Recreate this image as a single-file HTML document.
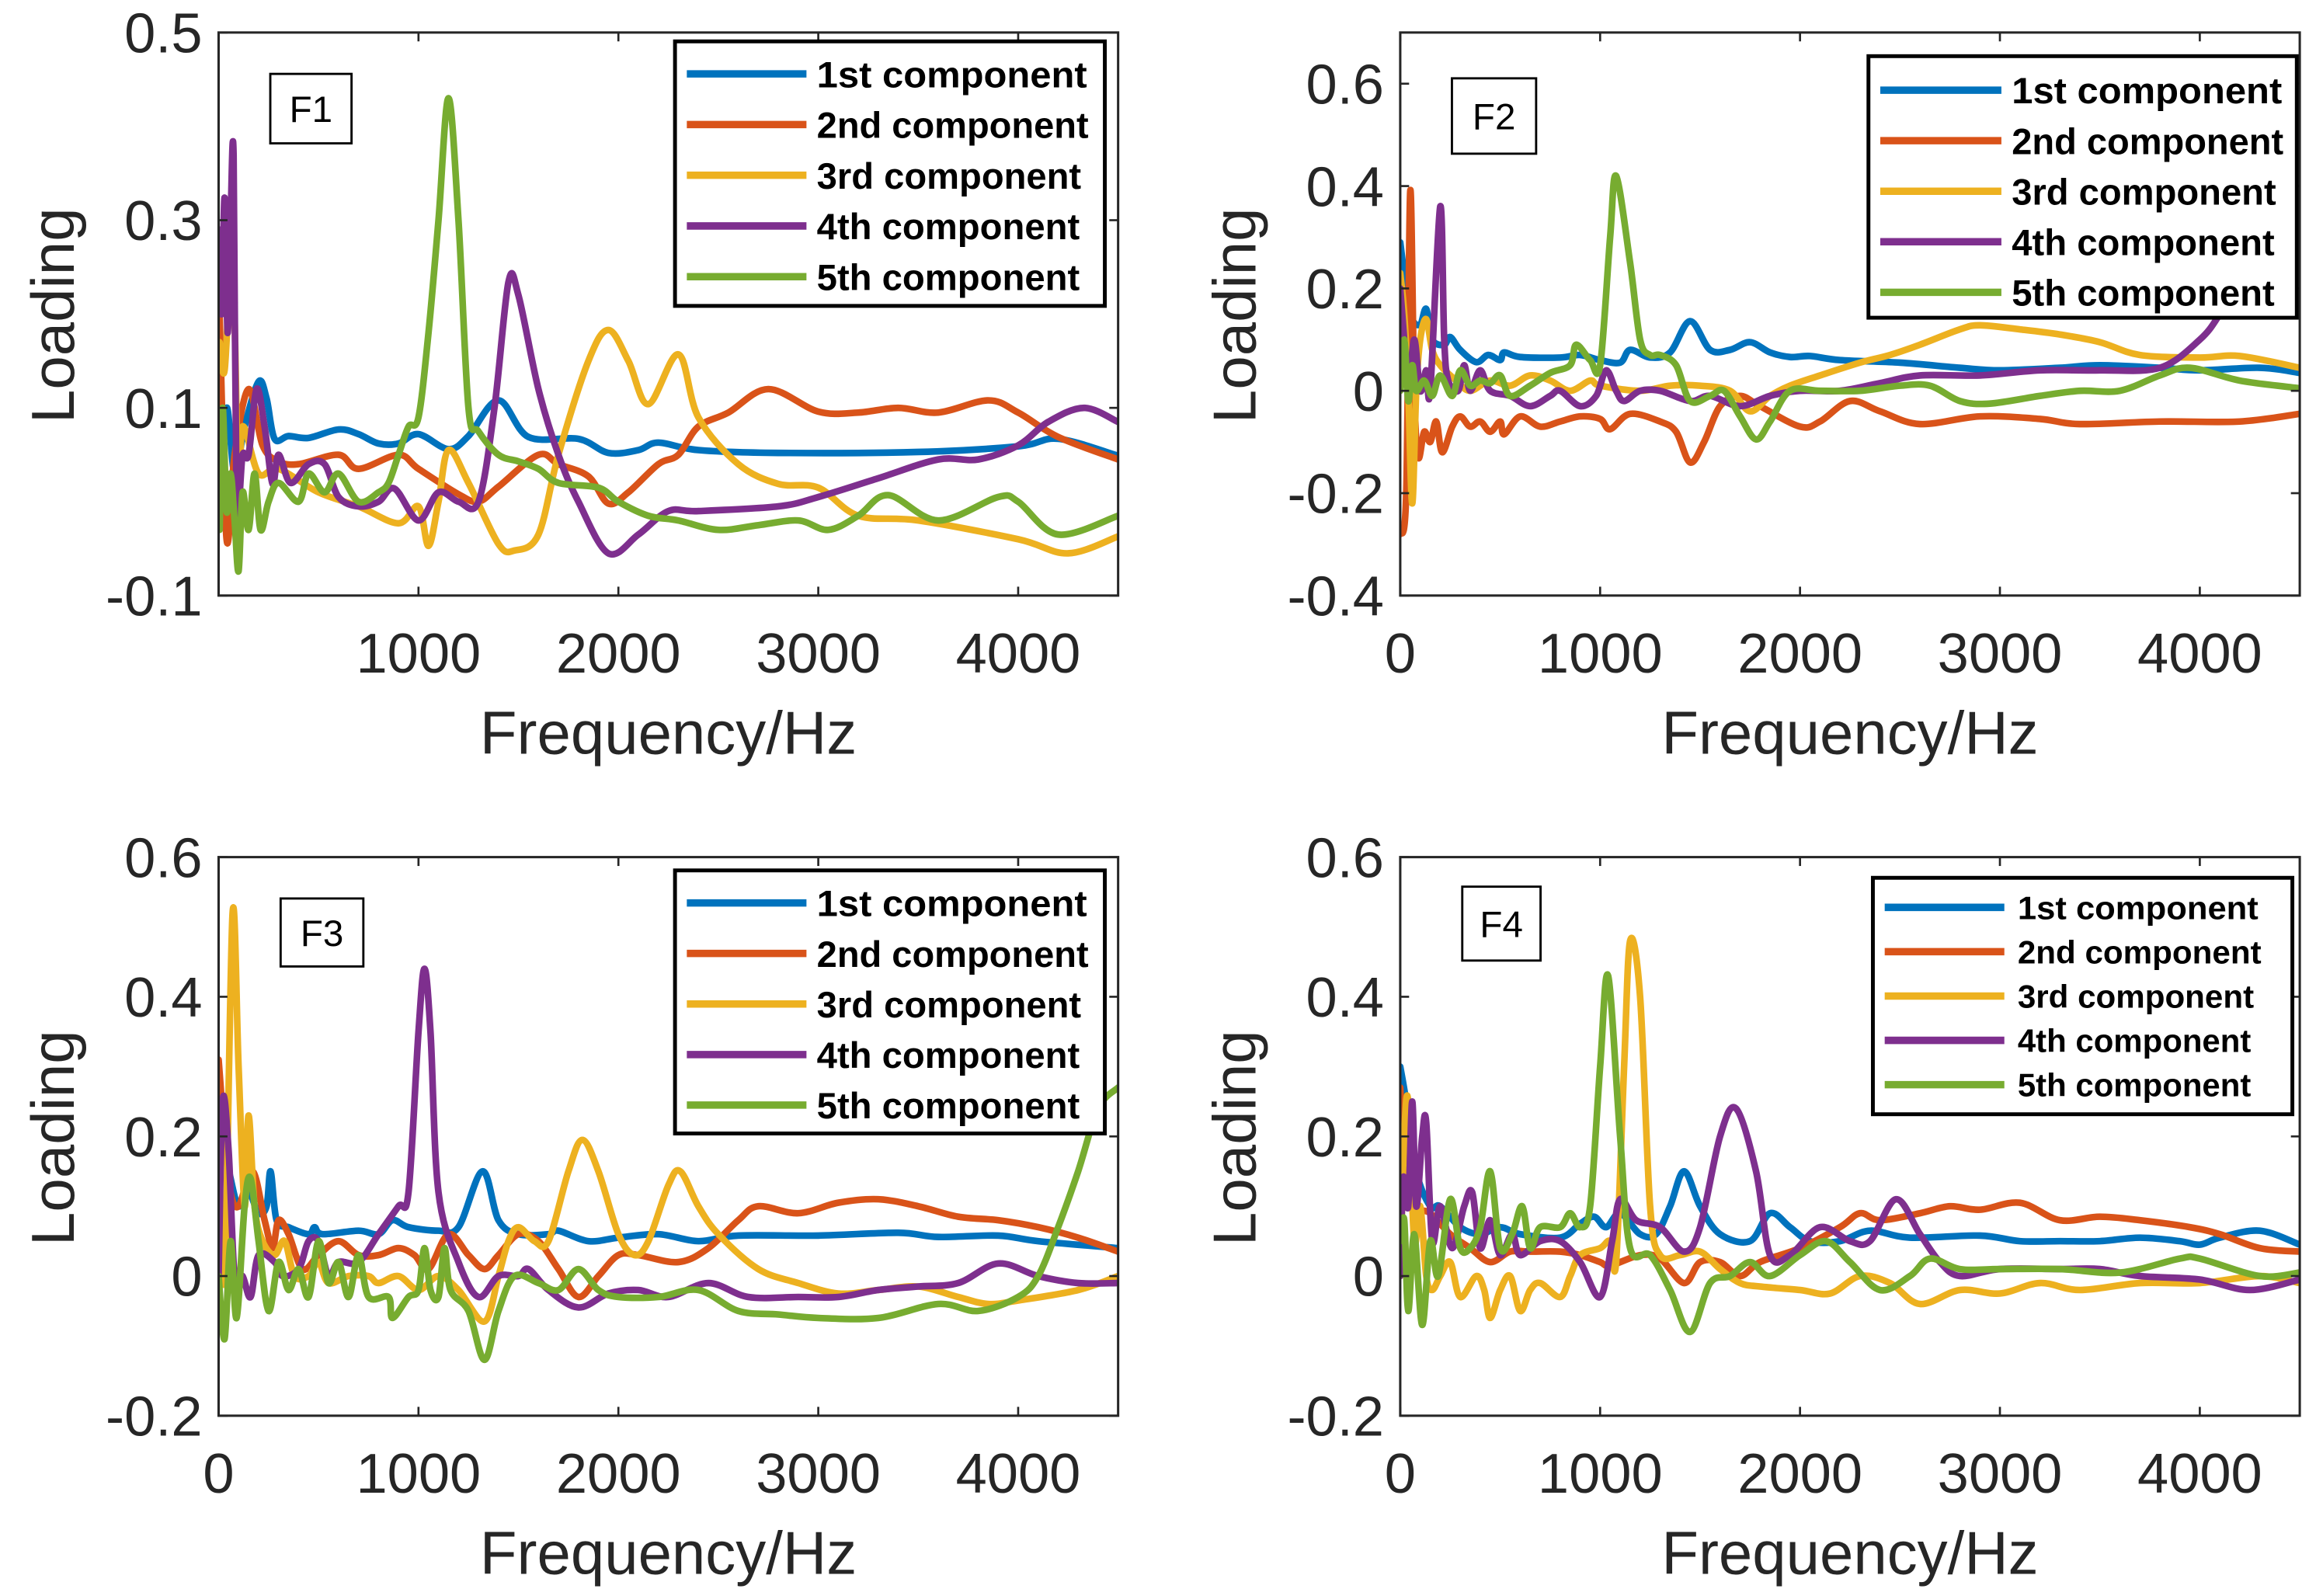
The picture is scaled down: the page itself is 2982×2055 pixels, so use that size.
<!DOCTYPE html>
<html><head><meta charset="utf-8"><style>
html,body{margin:0;padding:0;background:#fff;}
svg{display:block;}
text{font-family:"Liberation Sans",Arial,sans-serif;}
</style></head><body>
<svg id="fig" width="2982" height="2055" viewBox="0 0 1568 1080" preserveAspectRatio="none" xmlns="http://www.w3.org/2000/svg"></svg>
<script>
// ---- data: [frequency Hz, loading] ----
const F1_C1=[[5,0.0],[40,0.1],[80,0.03],[130,0.08],[200,0.128],[240,0.11],[280,0.067],[350,0.07],[450,0.068],[600,0.077],[700,0.072],[800,0.062],[900,0.062],[1000,0.072],[1150,0.056],[1250,0.07],[1400,0.108],[1550,0.069],[1800,0.067],[1950,0.052],[2100,0.055],[2200,0.063],[2400,0.055],[2800,0.052],[3500,0.053],[4000,0.059],[4200,0.067],[4500,0.049]];
const F1_C2=[[5,0.2],[40,-0.04],[80,0.05],[150,0.12],[220,0.06],[300,0.043],[400,0.04],[600,0.05],[700,0.035],[900,0.05],[1000,0.035],[1200,0.008],[1300,0.0],[1400,0.016],[1600,0.05],[1700,0.04],[1850,0.027],[1950,-0.002],[2050,0.01],[2200,0.04],[2300,0.05],[2400,0.08],[2550,0.095],[2750,0.12],[3000,0.096],[3200,0.095],[3400,0.1],[3600,0.095],[3850,0.108],[4000,0.095],[4200,0.069],[4500,0.045]];
const F1_C3=[[5,0.17],[30,0.14],[70,0.26],[100,0.0],[120,0.08],[200,0.03],[300,0.035],[500,0.01],[700,-0.005],[900,-0.023],[1000,-0.005],[1050,-0.047],[1100,0.0],[1150,0.055],[1250,0.02],[1400,-0.045],[1480,-0.052],[1600,-0.035],[1700,0.05],[1850,0.15],[1950,0.183],[2050,0.15],[2150,0.104],[2300,0.157],[2400,0.09],[2600,0.04],[2800,0.019],[3000,0.015],[3200,-0.015],[3500,-0.02],[4000,-0.04],[4250,-0.055],[4500,-0.037]];
const F1_C4=[[5,0.29],[15,0.2],[30,0.324],[45,0.18],[60,0.3],[75,0.369],[90,0.0],[120,0.05],[150,0.05],[190,0.12],[230,0.08],[270,0.019],[300,0.05],[360,0.02],[450,0.04],[530,0.04],[600,0.005],[700,-0.005],[800,0.0],[880,0.014],[1000,-0.02],[1100,0.01],[1200,0.0],[1300,0.0],[1380,0.1],[1450,0.234],[1500,0.22],[1600,0.12],[1700,0.05],[1800,0.0],[1950,-0.055],[2100,-0.035],[2250,-0.01],[2400,-0.01],[2800,-0.005],[3000,0.005],[3300,0.025],[3600,0.045],[3800,0.045],[4000,0.06],[4150,0.085],[4330,0.1],[4500,0.085]];
const F1_C5=[[5,-0.03],[20,0.1],[40,-0.01],[60,0.03],[80,-0.02],[100,-0.074],[120,0.01],[150,-0.03],[180,0.03],[210,-0.03],[250,0.0],[300,0.02],[400,0.0],[450,0.03],[530,0.01],[600,0.03],[700,0.0],[800,0.01],[850,0.02],[900,0.05],[950,0.08],[1000,0.09],[1050,0.18],[1100,0.3],[1150,0.43],[1200,0.3],[1250,0.1],[1300,0.075],[1400,0.05],[1500,0.043],[1600,0.035],[1700,0.02],[1900,0.015],[2000,0.0],[2150,-0.015],[2300,-0.02],[2500,-0.03],[2700,-0.025],[2900,-0.02],[3050,-0.03],[3200,-0.015],[3350,0.007],[3600,-0.02],[3900,0.005],[4000,0.0],[4200,-0.035],[4500,-0.015]];

const F2_C1=[[0,0.29],[30,0.2],[60,0.14],[100,0.13],[130,0.16],[160,0.1],[220,0.09],[250,0.105],[300,0.08],[380,0.056],[440,0.07],[500,0.06],[520,0.075],[600,0.066],[800,0.065],[900,0.07],[1000,0.06],[1100,0.055],[1150,0.08],[1250,0.065],[1350,0.075],[1450,0.136],[1550,0.08],[1650,0.08],[1750,0.095],[1850,0.075],[1950,0.066],[2050,0.068],[2200,0.06],[2500,0.055],[2800,0.045],[3000,0.04],[3300,0.045],[3500,0.05],[3800,0.045],[4000,0.04],[4300,0.045],[4500,0.035]];
const F2_C2=[[0,-0.28],[30,-0.2],[50,0.39],[70,0.0],[90,-0.13],[120,-0.08],[150,-0.1],[180,-0.06],[210,-0.12],[260,-0.07],[300,-0.05],[350,-0.07],[400,-0.06],[450,-0.08],[500,-0.06],[520,-0.085],[600,-0.05],[700,-0.07],[800,-0.06],[900,-0.05],[1000,-0.055],[1050,-0.075],[1150,-0.045],[1300,-0.06],[1380,-0.08],[1450,-0.14],[1520,-0.1],[1600,-0.03],[1700,-0.01],[1800,-0.03],[2000,-0.07],[2100,-0.06],[2250,-0.02],[2400,-0.04],[2600,-0.065],[2900,-0.05],[3200,-0.055],[3400,-0.065],[3800,-0.06],[4200,-0.06],[4500,-0.045]];
const F2_C3=[[0,0.23],[20,0.15],[40,0.0],[60,-0.22],[80,0.0],[100,0.1],[130,0.14],[160,0.08],[200,0.05],[280,0.02],[350,0.0],[450,0.02],[550,0.01],[650,0.03],[750,0.02],[850,0.0],[950,0.02],[1000,0.01],[1200,0.0],[1350,0.01],[1500,0.01],[1650,0.0],[1750,-0.04],[1850,-0.01],[1950,0.01],[2100,0.03],[2300,0.055],[2450,0.07],[2600,0.09],[2800,0.12],[2900,0.128],[3100,0.12],[3300,0.11],[3500,0.095],[3700,0.07],[4000,0.065],[4200,0.068],[4500,0.045]];
const F2_C4=[[0,0.2],[20,0.1],[40,0.0],[70,0.1],[100,0.0],[130,0.04],[150,0.0],[200,0.36],[220,0.1],[240,0.02],[290,0.0],[320,0.05],[350,0.0],[400,0.04],[450,0.0],[550,-0.01],[650,-0.03],[750,-0.01],[800,0.0],[900,-0.03],[980,-0.01],[1030,0.04],[1080,0.0],[1120,-0.02],[1200,0.0],[1300,0.0],[1450,-0.02],[1550,-0.01],[1700,-0.03],[1850,-0.01],[2000,0.0],[2200,0.0],[2400,0.015],[2600,0.03],[2900,0.03],[3200,0.04],[3500,0.04],[3800,0.045],[4000,0.1],[4100,0.15],[4200,0.22],[4300,0.3]];
const F2_C5=[[0,0.0],[20,0.1],[40,-0.02],[60,0.05],[80,0.0],[120,0.02],[160,-0.01],[200,0.03],[260,-0.01],[300,0.04],[350,0.01],[400,0.02],[450,0.015],[500,0.03],[550,-0.01],[650,0.01],[750,0.035],[850,0.05],[880,0.09],[950,0.06],[1000,0.05],[1050,0.3],[1080,0.42],[1150,0.25],[1200,0.1],[1250,0.07],[1300,0.07],[1380,0.05],[1450,-0.02],[1550,-0.01],[1620,0.0],[1700,-0.05],[1780,-0.095],[1850,-0.06],[1950,0.0],[2100,0.0],[2300,0.0],[2500,0.01],[2650,0.01],[2800,-0.02],[2950,-0.025],[3200,-0.01],[3400,0.0],[3600,0.0],[3800,0.03],[3950,0.045],[4200,0.02],[4500,0.005]];

const F3_C1=[[0,0.27],[20,0.2],[60,0.14],[100,0.1],[150,0.12],[200,0.09],[240,0.1],[260,0.15],[290,0.08],[350,0.07],[450,0.06],[480,0.07],[520,0.06],[700,0.065],[800,0.06],[870,0.08],[950,0.07],[1100,0.065],[1200,0.07],[1320,0.15],[1400,0.08],[1500,0.06],[1650,0.06],[1700,0.065],[1850,0.05],[2000,0.055],[2200,0.06],[2400,0.05],[2600,0.058],[3000,0.058],[3400,0.062],[3600,0.056],[3900,0.058],[4100,0.05],[4500,0.04]];
const F3_C2=[[0,0.31],[30,0.2],[60,0.12],[100,0.1],[170,0.15],[230,0.08],[270,0.04],[300,0.08],[350,0.06],[420,0.01],[500,0.03],[600,0.05],[700,0.03],[800,0.03],[900,0.04],[980,0.03],[1050,0.01],[1150,0.06],[1250,0.03],[1330,0.01],[1400,0.03],[1500,0.06],[1600,0.05],[1700,0.01],[1800,-0.03],[1900,0.0],[2000,0.03],[2100,0.03],[2300,0.02],[2450,0.04],[2600,0.08],[2700,0.1],[2900,0.09],[3100,0.105],[3300,0.11],[3500,0.1],[3700,0.085],[3900,0.08],[4100,0.07],[4300,0.055],[4500,0.035]];
const F3_C3=[[0,0.15],[30,0.0],[70,0.52],[100,0.3],[130,0.1],[150,0.23],[180,0.1],[220,0.05],[280,0.03],[330,0.05],[380,0.0],[450,0.0],[500,0.02],[550,-0.01],[650,0.0],[750,0.0],[800,-0.01],[900,0.0],[1000,-0.02],[1100,0.0],[1200,-0.02],[1330,-0.065],[1400,0.0],[1450,0.05],[1500,0.07],[1580,0.05],[1650,0.05],[1750,0.15],[1820,0.195],[1900,0.15],[2000,0.06],[2080,0.03],[2150,0.05],[2250,0.13],[2310,0.15],[2400,0.1],[2500,0.06],[2700,0.01],[2900,-0.01],[3100,-0.025],[3300,-0.02],[3500,-0.015],[3700,-0.03],[3850,-0.04],[4000,-0.035],[4300,-0.02],[4500,0.0]];
const F3_C4=[[0,0.0],[20,0.25],[50,0.18],[80,0.0],[120,0.0],[160,-0.03],[200,0.03],[280,0.02],[320,0.0],[400,0.01],[450,0.05],[500,0.05],[550,0.0],[600,0.02],[700,0.02],[800,0.06],[900,0.1],[950,0.12],[1000,0.35],[1030,0.44],[1060,0.35],[1100,0.12],[1200,0.02],[1300,-0.03],[1400,0.0],[1500,0.0],[1550,0.01],[1650,-0.02],[1800,-0.045],[1950,-0.025],[2100,-0.02],[2250,-0.03],[2450,-0.01],[2650,-0.03],[2900,-0.03],[3100,-0.03],[3300,-0.02],[3500,-0.015],[3700,-0.01],[3900,0.018],[4100,0.0],[4300,-0.01],[4500,-0.01]];
const F3_C5=[[0,0.0],[30,-0.09],[60,0.05],[90,-0.06],[130,0.1],[160,0.14],[200,0.05],[250,-0.05],[300,0.02],[350,-0.02],[400,0.01],[450,-0.03],[500,0.05],[550,-0.01],[600,0.02],[650,-0.03],[700,0.03],[750,-0.03],[850,-0.03],[870,-0.06],[950,-0.03],[1000,-0.02],[1030,0.04],[1060,-0.02],[1100,-0.03],[1130,0.04],[1160,-0.02],[1250,-0.05],[1330,-0.12],[1400,-0.05],[1480,0.0],[1600,-0.01],[1700,-0.02],[1800,0.01],[1900,-0.02],[2000,-0.03],[2200,-0.03],[2400,-0.02],[2600,-0.05],[2800,-0.055],[3000,-0.06],[3300,-0.06],[3600,-0.04],[3800,-0.05],[4000,-0.03],[4100,0.0],[4200,0.07],[4300,0.15],[4400,0.24],[4500,0.27]];

const F4_C1=[[0,0.3],[30,0.25],[80,0.15],[150,0.1],[200,0.1],[300,0.07],[400,0.06],[500,0.07],[600,0.06],[800,0.055],[900,0.075],[970,0.085],[1030,0.07],[1100,0.09],[1200,0.06],[1280,0.06],[1350,0.1],[1420,0.15],[1500,0.1],[1600,0.06],[1750,0.05],[1850,0.09],[1950,0.07],[2050,0.05],[2200,0.05],[2350,0.065],[2550,0.055],[2900,0.058],[3100,0.05],[3300,0.05],[3500,0.05],[3700,0.055],[3900,0.05],[4000,0.045],[4100,0.055],[4300,0.065],[4500,0.045]];
const F4_C2=[[0,0.27],[30,0.15],[80,0.1],[150,0.09],[250,0.06],[350,0.04],[450,0.02],[550,0.035],[650,0.035],[800,0.035],[900,0.03],[1000,0.02],[1050,0.015],[1200,0.03],[1300,0.025],[1420,-0.01],[1500,0.02],[1600,0.02],[1700,0.0],[1800,0.02],[2000,0.04],[2200,0.07],[2300,0.09],[2400,0.08],[2600,0.09],[2750,0.1],[2900,0.095],[3100,0.105],[3300,0.08],[3500,0.085],[3700,0.08],[3950,0.07],[4100,0.06],[4300,0.04],[4500,0.035]];
const F4_C3=[[0,0.0],[20,0.2],[40,0.25],[70,0.05],[100,0.1],[130,0.0],[160,-0.02],[200,0.0],[250,0.02],[300,-0.03],[380,0.0],[420,-0.02],[450,-0.06],[500,-0.02],[550,0.0],[600,-0.05],[650,-0.02],[700,-0.01],[800,-0.03],[850,0.0],[900,0.03],[1000,0.04],[1050,0.05],[1080,0.02],[1120,0.3],[1150,0.48],[1200,0.4],[1250,0.1],[1300,0.03],[1400,0.03],[1500,0.035],[1600,0.01],[1700,-0.01],[1800,-0.015],[2000,-0.02],[2150,-0.025],[2300,0.0],[2450,-0.01],[2600,-0.04],[2800,-0.02],[3000,-0.025],[3200,-0.01],[3400,-0.02],[3700,-0.01],[4000,-0.01],[4300,0.0],[4500,-0.01]];
const F4_C4=[[0,0.0],[15,0.14],[40,0.1],[60,0.25],[80,0.1],[110,0.2],[130,0.22],[160,0.05],[200,0.1],[260,0.04],[320,0.1],[360,0.12],[400,0.04],[450,0.08],[500,0.03],[560,0.06],[600,0.03],[700,0.05],[800,0.05],[900,0.02],[1000,-0.03],[1060,0.05],[1100,0.11],[1180,0.08],[1300,0.07],[1420,0.035],[1500,0.07],[1600,0.2],[1680,0.24],[1780,0.15],[1850,0.03],[1950,0.03],[2100,0.07],[2250,0.05],[2350,0.05],[2480,0.11],[2600,0.06],[2700,0.02],[2800,0.0],[3000,0.01],[3300,0.01],[3500,0.01],[3700,0.0],[4000,-0.005],[4250,-0.02],[4500,-0.005]];
const F4_C5=[[0,0.05],[20,0.08],[40,-0.05],[70,0.06],[110,-0.07],[150,0.05],[190,0.0],[250,0.11],[300,0.04],[350,0.04],[400,0.07],[450,0.15],[500,0.04],[560,0.06],[610,0.1],[650,0.04],[700,0.07],[800,0.07],[850,0.09],[900,0.07],[950,0.1],[1000,0.3],[1040,0.43],[1100,0.2],[1150,0.04],[1250,0.03],[1350,-0.02],[1450,-0.08],[1550,-0.01],[1650,0.0],[1750,0.02],[1850,0.0],[2000,0.03],[2130,0.05],[2250,0.02],[2400,-0.02],[2550,0.0],[2650,0.025],[2800,0.01],[3000,0.01],[3300,0.01],[3600,0.005],[3900,0.025],[4000,0.025],[4300,0.0],[4500,0.005]];

const SERIES_NAMES=["1st  component","2nd component","3rd component","4th component","5th component"];
const X_TICKS=[0,1000,2000,3000,4000];
const F1_Y_TICKS=[-0.1,0.1,0.3,0.5];
const F2_Y_TICKS=[-0.4,-0.2,0,0.2,0.4,0.6];
const F34_Y_TICKS=[-0.2,0,0.2,0.4,0.6];

const COLORS=["#0072BD","#D95319","#EDB120","#7E2F8E","#77AC30"];
const NS="http://www.w3.org/2000/svg";
const svg=document.getElementById('fig');
function mk(tag,attrs,parent){const e=document.createElementNS(NS,tag);for(const k in attrs)e.setAttribute(k,attrs[k]);(parent||svg).appendChild(e);return e;}

const panels=[
 {id:'f1',label:'F1',x0:148,x1:757,y0:22,y1:403,ymin:-0.1,ymax:0.5,yt:F1_Y_TICKS,x0lab:false,series:[F1_C1,F1_C2,F1_C3,F1_C4,F1_C5],
  leg:{x:457,y:28,w:291,h:179,r0:50,dr:34.3,fs:25,lx0:465,lx1:546,tx:553,tw:[183,184,179,178,178]},fb:{x:183,y:50,w:55,h:47}},
 {id:'f2',label:'F2',x0:948,x1:1557,y0:22,y1:403,ymin:-0.4,ymax:0.7,yt:F2_Y_TICKS,x0lab:true,series:[F2_C1,F2_C2,F2_C3,F2_C4,F2_C5],
  leg:{x:1265,y:38,w:290,h:177,r0:61,dr:34.2,fs:25,lx0:1273,lx1:1355,tx:1362,tw:[183,184,179,178,178]},fb:{x:983,y:53,w:57,h:51}},
 {id:'f3',label:'F3',x0:148,x1:757,y0:580,y1:958,ymin:-0.2,ymax:0.6,yt:F34_Y_TICKS,x0lab:true,series:[F3_C1,F3_C2,F3_C3,F3_C4,F3_C5],
  leg:{x:457,y:589,w:291,h:178,r0:611,dr:34.2,fs:25,lx0:465,lx1:546,tx:553,tw:[183,184,179,178,178]},fb:{x:190,y:608,w:56,h:46}},
 {id:'f4',label:'F4',x0:948,x1:1557,y0:580,y1:958,ymin:-0.2,ymax:0.6,yt:F34_Y_TICKS,x0lab:true,series:[F4_C1,F4_C2,F4_C3,F4_C4,F4_C5],
  leg:{x:1268,y:594,w:284,h:160,r0:614,dr:30,fs:22,lx0:1276,lx1:1357,tx:1366,tw:[163,165,160,158,158]},fb:{x:990,y:600,w:53,h:50}}
];
const XMAX=4500;
function fmt(v){if(Math.abs(v)<1e-9)return "0";return String(Math.round(v*10)/10);}
function smoothPath(pts){let d="M"+pts[0][0].toFixed(2)+","+pts[0][1].toFixed(2);
 for(let i=0;i<pts.length-1;i++){const p0=pts[Math.max(0,i-1)],p1=pts[i],p2=pts[i+1],p3=pts[Math.min(pts.length-1,i+2)];
  const c1x=p1[0]+(p2[0]-p0[0])/6,c1y=p1[1]+(p2[1]-p0[1])/6,c2x=p2[0]-(p3[0]-p1[0])/6,c2y=p2[1]-(p3[1]-p1[1])/6;
  d+=" C"+c1x.toFixed(2)+","+c1y.toFixed(2)+" "+c2x.toFixed(2)+","+c2y.toFixed(2)+" "+p2[0].toFixed(2)+","+p2[1].toFixed(2);}
 return d;}

panels.forEach((P)=>{
 const g=mk('g',{});
 
 
 const sx=f=>P.x0+(f/XMAX)*(P.x1-P.x0);
 const sy=v=>P.y1-(v-P.ymin)/(P.ymax-P.ymin)*(P.y1-P.y0);
 const cp=mk('clipPath',{id:'clip-'+P.id},g);
 mk('rect',{x:P.x0,y:P.y0,width:P.x1-P.x0,height:P.y1-P.y0},cp);
 P.series.forEach((s,i)=>{
  const pts=s.map(p=>[sx(p[0]),sy(p[1])]);
  const path=mk('path',{d:smoothPath(pts),fill:'none',stroke:COLORS[i],'stroke-width':4.5,'stroke-linejoin':'round','stroke-linecap':'round','clip-path':'url(#clip-'+P.id+')'},g);
  
  
 });
 const box=mk('rect',{x:P.x0,y:P.y0,width:P.x1-P.x0,height:P.y1-P.y0,fill:'none',stroke:'#262626','stroke-width':1.6},g);
 
 
 X_TICKS.forEach(t=>{const x=sx(t);
  mk('line',{x1:x,y1:P.y1,x2:x,y2:P.y1-6,stroke:'#262626','stroke-width':1.4},g);
  mk('line',{x1:x,y1:P.y0,x2:x,y2:P.y0+6,stroke:'#262626','stroke-width':1.4},g);
  if(t===0&&!P.x0lab)return;
  const tx=mk('text',{x:x,y:P.y1+52,'text-anchor':'middle','font-size':38,fill:'#262626'},g);
  tx.textContent=String(t);
  
  
 });
 P.yt.forEach(t=>{const y=sy(t);
  mk('line',{x1:P.x0,y1:y,x2:P.x0+6,y2:y,stroke:'#262626','stroke-width':1.4},g);
  mk('line',{x1:P.x1,y1:y,x2:P.x1-6,y2:y,stroke:'#262626','stroke-width':1.4},g);
  const tx=mk('text',{x:P.x0-11,y:y+13.5,'text-anchor':'end','font-size':38,fill:'#262626'},g);
  tx.textContent=fmt(t);
  
  
 });
 const xt=mk('text',{x:(P.x0+P.x1)/2,y:P.y1+107,'text-anchor':'middle','font-size':41,fill:'#262626'},g);
 xt.textContent='Frequency/Hz';
 
 
 const cy=(P.y0+P.y1)/2+1, bx=P.x0-98;
 const yt=mk('text',{x:bx,y:cy,'text-anchor':'middle','font-size':41,fill:'#262626',transform:'rotate(-90 '+bx+' '+cy+')'},g);
 yt.textContent='Loading';
 
 
 const fg=mk('g',{},g);
 
 
 mk('rect',{x:P.fb.x,y:P.fb.y,width:P.fb.w,height:P.fb.h,fill:'#fff',stroke:'#000','stroke-width':1.5},fg);
 const ft=mk('text',{x:P.fb.x+P.fb.w/2,y:P.fb.y+P.fb.h/2+9,'text-anchor':'middle','font-size':25,fill:'#000'},fg);
 ft.textContent=P.label;
 const L=P.leg;
 const lg=mk('g',{},g);
 
 
 mk('rect',{x:L.x,y:L.y,width:L.w,height:L.h,fill:'#fff',stroke:'#000','stroke-width':2.6},lg);
 SERIES_NAMES.forEach((n,i)=>{const y=L.r0+i*L.dr;
  const eg=mk('g',{},lg);
  
  
  mk('line',{x1:L.lx0,y1:y,x2:L.lx1,y2:y,stroke:COLORS[i],'stroke-width':5},eg);
  const t=mk('text',{x:L.tx,y:y+L.fs*0.36,'font-size':L.fs,'font-weight':'bold',fill:'#000',textLength:L.tw[i],lengthAdjust:'spacingAndGlyphs','xml:space':'preserve'},eg);
  t.textContent=n;
 });
});
</script>
</body></html>
